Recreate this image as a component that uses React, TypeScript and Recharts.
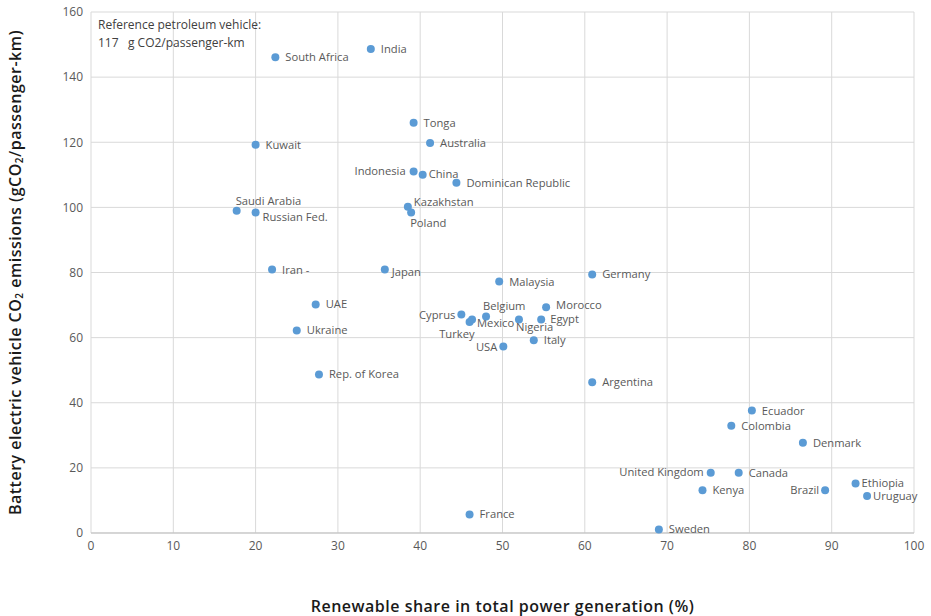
import React from 'react';
import { ScatterChart, Scatter, XAxis, YAxis, CartesianGrid, Label } from 'recharts';

const countries = [
  'India', 'South Africa', 'Tonga', 'Australia', 'Kuwait', 'Indonesia', 'China', 'Dominican Republic',
  'Kazakhstan', 'Poland', 'Saudi Arabia', 'Russian Fed.', 'Iran -', 'Japan', 'UAE', 'Ukraine',
  'Rep. of Korea', 'Cyprus', 'Turkey', 'Mexico', 'Belgium', 'Nigeria', 'Egypt', 'Morocco',
  'Malaysia', 'Germany', 'Italy', 'USA', 'Argentina', 'Ecuador', 'Colombia', 'Denmark',
  'United Kingdom', 'Canada', 'Kenya', 'Brazil', 'Ethiopia', 'Uruguay', 'France', 'Sweden',
];
const renewableShare = [
  34.0, 22.4, 39.2, 41.2, 20.0, 39.2, 40.3, 44.4,
  38.5, 38.9, 17.7, 20.0, 22.0, 35.7, 27.3, 25.0,
  27.7, 45.0, 46.0, 46.3, 48.0, 52.0, 54.7, 55.3,
  49.6, 60.9, 53.8, 50.1, 60.9, 80.3, 77.8, 86.5,
  75.3, 78.7, 74.3, 89.2, 92.9, 94.3, 46.0, 69.0,
];
const bevEmissions = [
  148.6, 146.1, 126.0, 119.8, 119.2, 111.0, 110.0, 107.6,
  100.2, 98.4, 99.0, 98.4, 80.9, 80.9, 70.2, 62.2,
  48.7, 67.1, 64.8, 65.6, 66.5, 65.6, 65.6, 69.3,
  77.2, 79.4, 59.2, 57.3, 46.3, 37.6, 32.9, 27.7,
  18.5, 18.5, 13.1, 13.1, 15.2, 11.4, 5.7, 1.1,
];
const xTicks = [0, 10, 20, 30, 40, 50, 60, 70, 80, 90, 100];
const yTicks = [0, 20, 40, 60, 80, 100, 120, 140, 160];
const noteLine1 = 'Reference petroleum vehicle:';
const noteLine2 = '117   g CO2/passenger-km';

const data = countries.map((name, i) => ({ name, x: renewableShare[i], y: bevEmissions[i] }));

// label placement relative to dot: [dx, dy, anchor]
const placement: Record<string, [number, number, string]> = {
  Indonesia: [-8, 3, 'end'],
  China: [6, 3, 'start'],
  'Saudi Arabia': [-1, -6, 'start'],
  'Russian Fed.': [7, 8, 'start'],
  Kazakhstan: [6, -1, 'start'],
  Poland: [-1, 14, 'start'],
  Japan: [7, 6, 'start'],
  Cyprus: [-6, 4, 'end'],
  Belgium: [-3, -6, 'start'],
  Mexico: [5, 8, 'start'],
  Turkey: [5, 16, 'end'],
  Nigeria: [-3, 12, 'start'],
  Egypt: [9, 4, 'start'],
  Morocco: [10, 2, 'start'],
  USA: [-6, 5, 'end'],
  'United Kingdom': [-7, 3, 'end'],
  Brazil: [-6, 4, 'end'],
  Ethiopia: [6, 3, 'start'],
  Uruguay: [6, 4, 'start'],
};

const FONT = '"Open Sans", "Noto Sans", sans-serif';

const Dot = (props: any) => {
  const { cx, cy, payload } = props;
  const p = placement[payload.name] || [10, 4, 'start'];
  return (
    <g>
      <circle cx={cx} cy={cy} r={4} fill="#5b9bd5" />
      <text x={cx + p[0]} y={cy + p[1]} textAnchor={p[2] as any} fontSize={11.2} fill="#595959" fontFamily={FONT}>
        {payload.name}
      </text>
    </g>
  );
};

const YTitle = (props: any) => {
  const vb = props.viewBox || { x: 0, y: 0, height: 0 };
  const cx = 15;
  const cy = vb.y + vb.height / 2;
  return (
    <text
      x={cx}
      y={cy}
      transform={`rotate(-90, ${cx}, ${cy})`}
      textAnchor="middle"
      dominantBaseline="central"
      fontSize={16}
      fontWeight={600}
      letterSpacing={0.5}
      fill="#1a1a1a"
      fontFamily={FONT}
    >
      <tspan>Battery electric vehicle CO</tspan>
      <tspan fontSize={10} dy={4}>2</tspan>
      <tspan dy={-4}> emissions (gCO</tspan>
      <tspan fontSize={10} dy={4}>2</tspan>
      <tspan dy={-4}>/passenger-km)</tspan>
    </text>
  );
};

const XTitle = (props: any) => {
  const vb = props.viewBox || { x: 0, y: 0, width: 0 };
  return (
    <text
      x={vb.x + vb.width / 2}
      y={606}
      textAnchor="middle"
      dominantBaseline="central"
      fontSize={16}
      fontWeight={600}
      letterSpacing={0.5}
      fill="#1a1a1a"
      fontFamily={FONT}
    >
      Renewable share in total power generation (%)
    </text>
  );
};

export default function App() {
  return (
    <div style={{ position: 'absolute', left: 0, top: 0, width: 931, height: 616, background: '#fff' }}>
      <ScatterChart width={931} height={616} margin={{ top: 12, right: 17, left: 41, bottom: 53 }}>
        <CartesianGrid stroke="#d9d9d9" strokeWidth={1} />
        <XAxis
          type="number"
          dataKey="x"
          domain={[0, 100]}
          ticks={xTicks}
          interval={0}
          tickLine={false}
          axisLine={{ stroke: '#bfbfbf' }}
          tick={{ fill: '#595959', fontSize: 12, fontFamily: FONT }}
          height={30}
        >
          <Label content={<XTitle />} />
        </XAxis>
        <YAxis
          type="number"
          dataKey="y"
          domain={[0, 160]}
          ticks={yTicks}
          interval={0}
          tickLine={false}
          axisLine={false}
          tick={{ fill: '#595959', fontSize: 12, fontFamily: FONT }}
          width={50}
        >
          <Label content={<YTitle />} />
        </YAxis>
        <Scatter data={data} shape={<Dot />} isAnimationActive={false} />
      </ScatterChart>
      <div
        style={{
          position: 'absolute',
          left: 98,
          top: 16,
          fontFamily: FONT,
          fontSize: 12,
          color: '#404040',
          lineHeight: '18px',
          whiteSpace: 'pre',
        }}
      >
        <div>{noteLine1}</div>
        <div>{noteLine2}</div>
      </div>
    </div>
  );
}
